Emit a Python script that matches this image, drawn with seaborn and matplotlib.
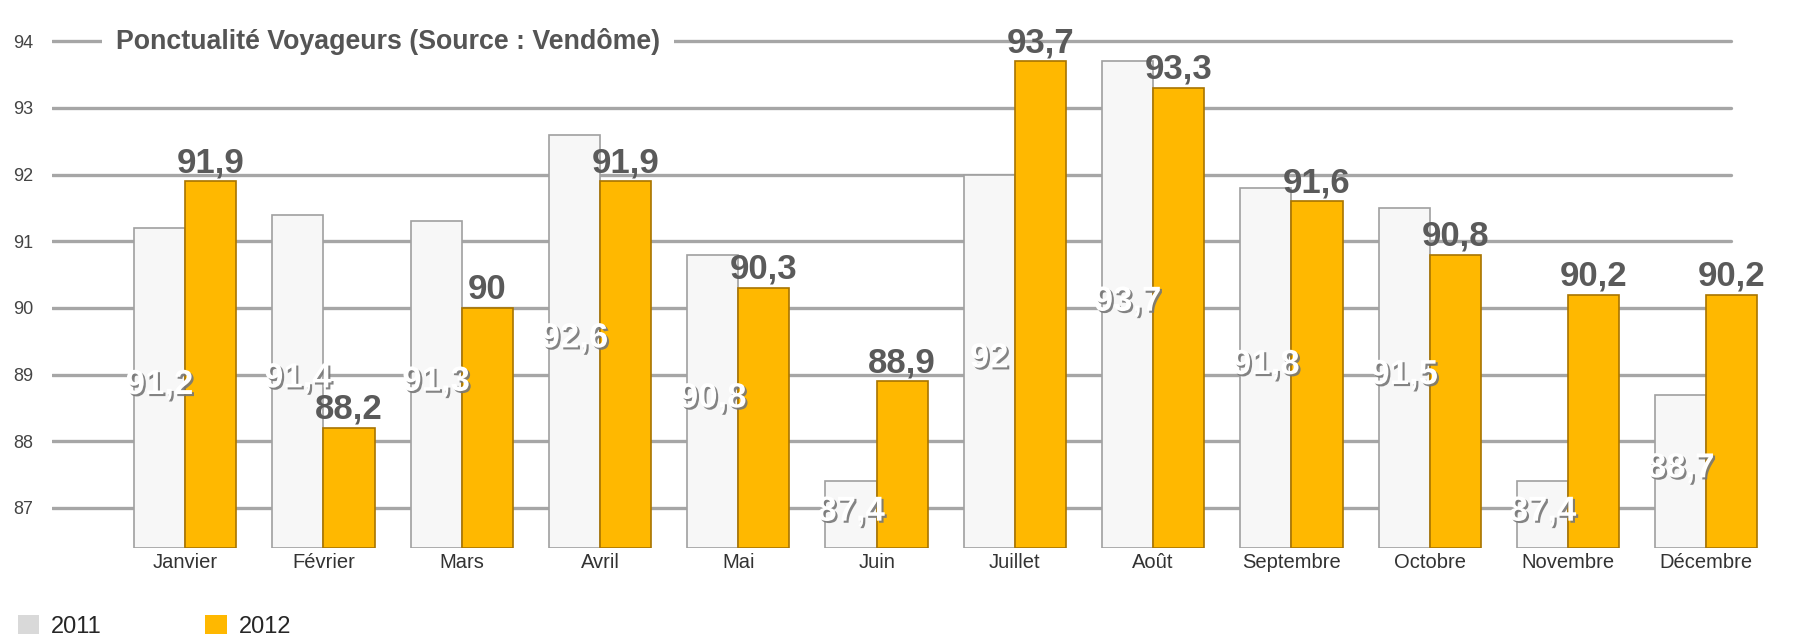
import matplotlib
matplotlib.use("Agg")
import matplotlib.pyplot as plt
import matplotlib.patheffects as pe
from matplotlib.patches import Patch
import seaborn as sns
import pandas as pd

months = ["Janvier", "Février", "Mars", "Avril", "Mai", "Juin", "Juillet",
          "Août", "Septembre", "Octobre", "Novembre", "Décembre"]
values_2011 = [91.2, 91.4, 91.3, 92.6, 90.8, 87.4, 92.0, 93.7, 91.8, 91.5, 87.4, 88.7]
values_2012 = [91.9, 88.2, 90.0, 91.9, 90.3, 88.9, 93.7, 93.3, 91.6, 90.8, 90.2, 90.2]
years = ["2011", "2012"]
y_ticks = [87, 88, 89, 90, 91, 92, 93, 94]
title = "Ponctualité Voyageurs (Source : Vendôme)"

df = pd.DataFrame({
    "Mois": months * 2,
    "Année": [years[0]] * len(months) + [years[1]] * len(months),
    "Valeur": values_2011 + values_2012,
})

sns.set_theme(style="white")
plt.rcParams["font.family"] = ["Liberation Sans", "DejaVu Sans"]

fig = plt.figure(figsize=(18.08, 6.43), dpi=100)
ax = fig.add_axes([0.029, 0.148, 0.953, 0.819])

base = 86.4
palette = {"2011": "#f7f7f7", "2012": "#ffb800"}
sns.barplot(data=df, x="Mois", y="Valeur", hue="Année", palette=palette,
            width=0.74, ax=ax, legend=False, saturation=1,
            edgecolor="#a0a0a0", linewidth=1.2)

# bars start from the bottom of the axis
for p in ax.patches:
    h = p.get_height()
    if h > 0:
        p.set_y(base)
        p.set_height(h - base)
    p.set_zorder(3)
for p in ax.containers[1]:
    p.set_edgecolor("#a87400")

ax.set_ylim(base, 94.3)
ax.set_xlim(-0.96, 11.5)
ax.set_yticks(y_ticks)
ax.set_yticklabels([str(t) for t in y_ticks], fontsize=13, color="#444444")
ax.tick_params(axis="y", length=0, pad=14)
ax.tick_params(axis="x", length=0, pad=4, labelsize=14.5, labelcolor="#333333")
ax.set_xlabel("")
ax.set_ylabel("")
ax.grid(False)
for s in ax.spines.values():
    s.set_visible(False)
for t in y_ticks:
    ax.axhline(t, xmin=0.0, xmax=0.974, color="#a6a6a6", lw=2.4, zorder=1)

def fmt(v):
    s = f"{v:.1f}".rstrip("0").rstrip(".")
    return s.replace(".", ",")

# 2012 labels above bars
for p, v in zip(ax.containers[1], values_2012):
    ax.text(p.get_x() + p.get_width() / 2, v + 0.03, fmt(v), ha="center", va="bottom",
            fontsize=25, fontweight="bold", color="#5a5a5a", zorder=5)
# 2011 labels inside bars
for p, v in zip(ax.containers[0], values_2011):
    ax.text(p.get_x() + p.get_width() / 2, (base + v) / 2 + 0.05, fmt(v), ha="center", va="center",
            fontsize=25, fontweight="bold", color="white", zorder=5,
            path_effects=[pe.withSimplePatchShadow(offset=(1.5, -1.5), shadow_rgbFace="#777777", alpha=0.9)])

ax.text(0.037, 94, title, ha="left", va="center", fontsize=19.3, fontweight="bold",
        color="#555555", zorder=6, transform=ax.get_yaxis_transform(),
        bbox=dict(facecolor="white", edgecolor="none", pad=10))

handles = [Patch(facecolor="#d9d9d9", edgecolor="none", label="2011"),
           Patch(facecolor="#ffb800", edgecolor="none", label="2012")]
fig.legend(handles=handles, loc="lower left", bbox_to_anchor=(-0.002, -0.025), ncol=2,
           frameon=False, fontsize=17, handlelength=0.9, handleheight=0.9,
           columnspacing=4.4, handletextpad=0.5)

fig.savefig("out.png", dpi=100, facecolor="white")
